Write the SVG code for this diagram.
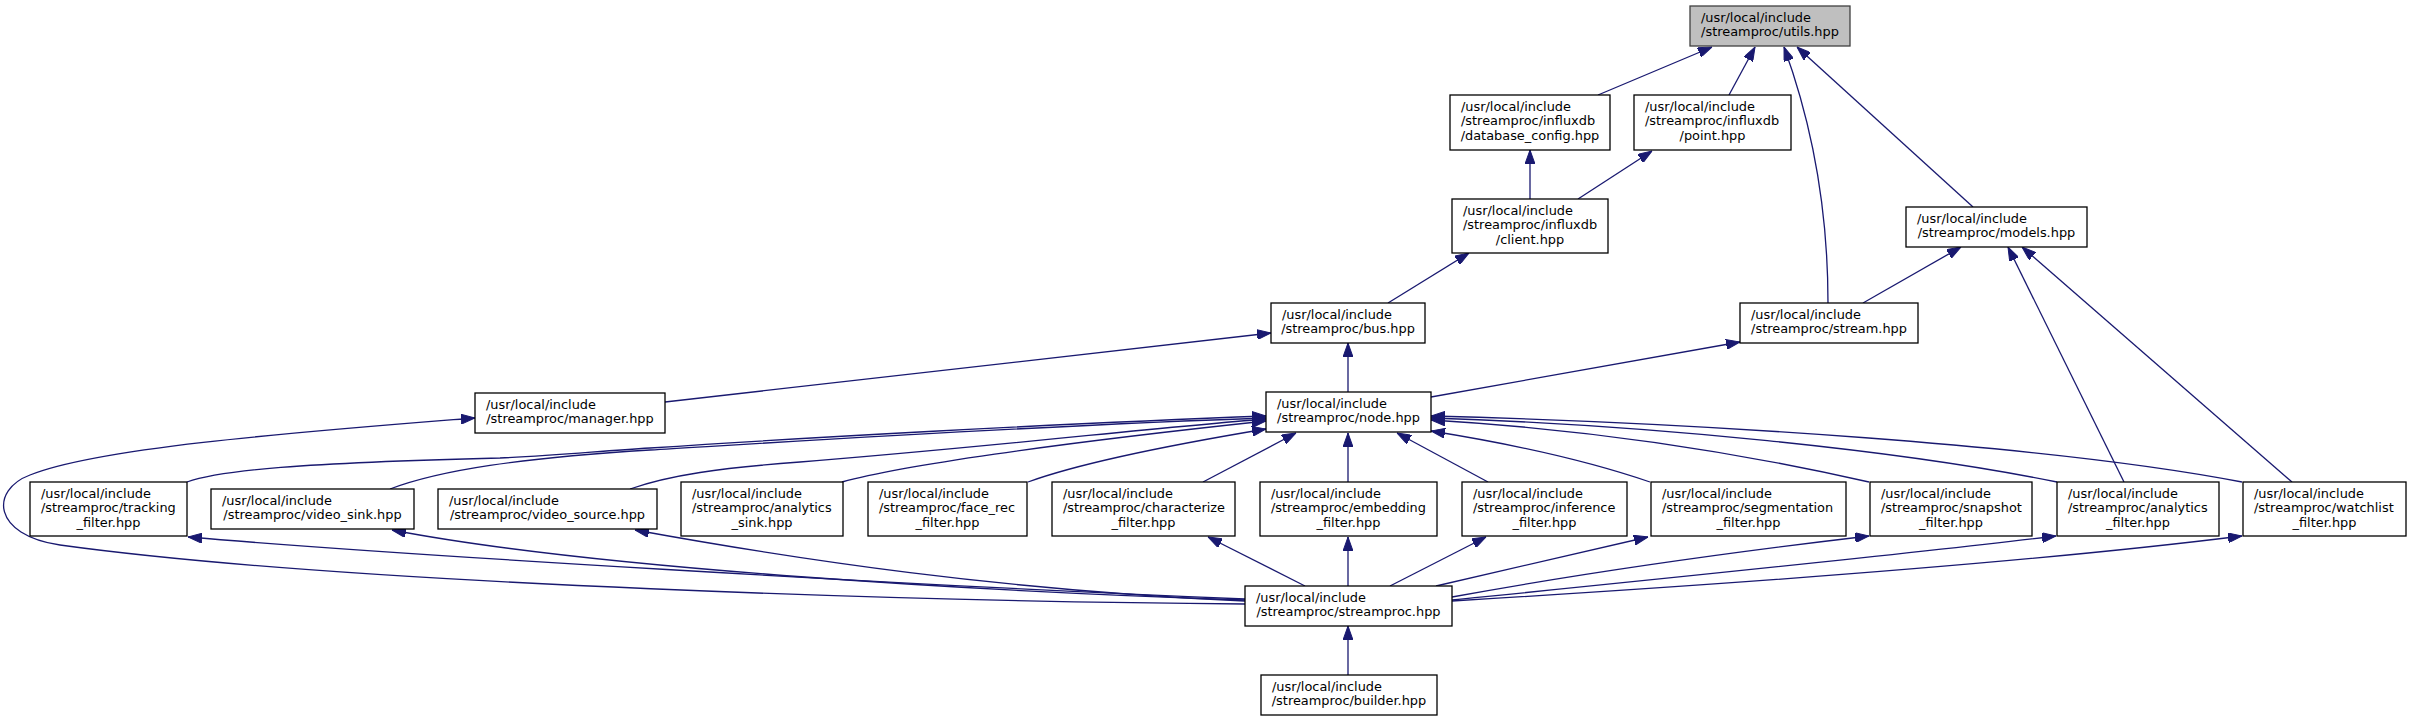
<svg xmlns="http://www.w3.org/2000/svg" width="2411" height="721" viewBox="0 0 2411 721">
<style>
.box{fill:#ffffff;stroke:#000000;stroke-width:1.3}
.root{fill:#bfbfbf;stroke:#404040;stroke-width:1.3}
text{font-family:"DejaVu Sans","Liberation Sans",sans-serif;font-size:12.9px;fill:#000000}
.c{text-anchor:middle}
.e{fill:none;stroke:#191970;stroke-width:1.3;marker-end:url(#ah)}
</style>
<defs>
<marker id="ah" markerUnits="userSpaceOnUse" viewBox="0 0 14 10" refX="14" refY="5" markerWidth="14" markerHeight="10" orient="auto">
<path d="M0,0 L14,5 L0,10 Z" fill="#191970" stroke="#191970" stroke-width="1"/>
</marker>
</defs>
<rect x="0" y="0" width="2411" height="721" fill="#ffffff"/>

<g id="connectors">
<path class="e" d="M1598,95 L1712,47"/>
<path class="e" d="M1729,95 L1755,47"/>
<path class="e" d="M1828,303 C1828,230 1818,140 1784,47"/>
<path class="e" d="M1973,207 L1797,47"/>
<path class="e" d="M1530,199 L1530,150"/>
<path class="e" d="M1578,199 L1652,151"/>
<path class="e" d="M1388,303 L1469,253"/>
<path class="e" d="M1863,303 L1961,247"/>
<path class="e" d="M1348,392 L1348,343"/>
<path class="e" d="M1431,397 L1740,342"/>
<path class="e" d="M665,402 L1271,333"/>
<path class="e" d="M1245,604 C950,602 350,585 60,545 C-8,535 -10,490 30,475 C100,447 300,432 475,418"/>
<path class="e" d="M187,482 C220,470 300,463 500,458 C560,455 600,451 650,448 C800,438 1050,424 1266,416"/>
<path class="e" d="M390,489 C440,470 520,458 650,450 C800,441 1050,425 1266,418"/>
<path class="e" d="M630,489 C670,475 720,468 800,462 C1000,446 1150,428 1266,419"/>
<path class="e" d="M842,482 C900,466 1050,444 1266,421"/>
<path class="e" d="M1028,482 C1080,463 1170,445 1266,429"/>
<path class="e" d="M1203,482 L1296,433"/>
<path class="e" d="M1348,482 L1348,433"/>
<path class="e" d="M1488,482 L1397,433"/>
<path class="e" d="M1650,482 C1580,458 1500,442 1431,431"/>
<path class="e" d="M1869,482 C1750,455 1600,430 1431,420"/>
<path class="e" d="M2057,482 C1900,450 1650,425 1431,418"/>
<path class="e" d="M2242,482 C2050,445 1700,423 1431,416"/>
<path class="e" d="M2124,482 L2008,247"/>
<path class="e" d="M2292,482 L2022,247"/>
<path class="e" d="M1245,599 C900,585 400,555 188,537"/>
<path class="e" d="M1245,600 C1000,592 600,570 392,530"/>
<path class="e" d="M1245,601 C1000,590 800,560 635,530"/>
<path class="e" d="M1305,586 L1208,537"/>
<path class="e" d="M1348,586 L1348,537"/>
<path class="e" d="M1390,586 L1486,537"/>
<path class="e" d="M1436,586 L1648,537"/>
<path class="e" d="M1452,597 C1600,570 1750,550 1869,536"/>
<path class="e" d="M1452,600 C1700,575 1900,555 2056,536"/>
<path class="e" d="M1452,601 C1800,580 2050,560 2242,536"/>
<path class="e" d="M1348,675 L1348,626"/>
</g>

<g id="utils"><rect class="root" x="1690" y="6" width="160" height="40"/><text x="1701" y="21.6">/usr/local/include</text><text class="c" x="1770" y="36.4">/streamproc/utils.hpp</text></g>
<g id="database_config"><rect class="box" x="1450" y="95" width="160" height="55"/><text x="1461" y="110.6">/usr/local/include</text><text x="1461" y="125.4">/streamproc/influxdb</text><text class="c" x="1530" y="140.2">/database_config.hpp</text></g>
<g id="point"><rect class="box" x="1634" y="95" width="157" height="55"/><text x="1645" y="110.6">/usr/local/include</text><text x="1645" y="125.4">/streamproc/influxdb</text><text class="c" x="1712.5" y="140.2">/point.hpp</text></g>
<g id="client"><rect class="box" x="1452" y="199" width="156" height="54"/><text x="1463" y="214.6">/usr/local/include</text><text x="1463" y="229.4">/streamproc/influxdb</text><text class="c" x="1530" y="244.2">/client.hpp</text></g>
<g id="models"><rect class="box" x="1906" y="207" width="181" height="40"/><text x="1917" y="222.6">/usr/local/include</text><text class="c" x="1996.5" y="237.4">/streamproc/models.hpp</text></g>
<g id="bus"><rect class="box" x="1271" y="303" width="154" height="40"/><text x="1282" y="318.6">/usr/local/include</text><text class="c" x="1348" y="333.4">/streamproc/bus.hpp</text></g>
<g id="stream"><rect class="box" x="1740" y="303" width="178" height="40"/><text x="1751" y="318.6">/usr/local/include</text><text class="c" x="1829" y="333.4">/streamproc/stream.hpp</text></g>
<g id="node"><rect class="box" x="1266" y="392" width="165" height="40"/><text x="1277" y="407.6">/usr/local/include</text><text class="c" x="1348.5" y="422.4">/streamproc/node.hpp</text></g>
<g id="manager"><rect class="box" x="475" y="393" width="190" height="40"/><text x="486" y="408.6">/usr/local/include</text><text class="c" x="570" y="423.4">/streamproc/manager.hpp</text></g>
<g id="tracking_filter"><rect class="box" x="30" y="482" width="157" height="54"/><text x="41" y="497.6">/usr/local/include</text><text x="41" y="512.4">/streamproc/tracking</text><text class="c" x="108.5" y="527.2">_filter.hpp</text></g>
<g id="video_sink"><rect class="box" x="211" y="489" width="203" height="40"/><text x="222" y="504.6">/usr/local/include</text><text class="c" x="312.5" y="519.4">/streamproc/video_sink.hpp</text></g>
<g id="video_source"><rect class="box" x="438" y="489" width="219" height="40"/><text x="449" y="504.6">/usr/local/include</text><text class="c" x="547.5" y="519.4">/streamproc/video_source.hpp</text></g>
<g id="analytics_sink"><rect class="box" x="681" y="482" width="162" height="54"/><text x="692" y="497.6">/usr/local/include</text><text x="692" y="512.4">/streamproc/analytics</text><text class="c" x="762" y="527.2">_sink.hpp</text></g>
<g id="face_rec_filter"><rect class="box" x="868" y="482" width="159" height="54"/><text x="879" y="497.6">/usr/local/include</text><text x="879" y="512.4">/streamproc/face_rec</text><text class="c" x="947.5" y="527.2">_filter.hpp</text></g>
<g id="characterize_filter"><rect class="box" x="1052" y="482" width="183" height="54"/><text x="1063" y="497.6">/usr/local/include</text><text x="1063" y="512.4">/streamproc/characterize</text><text class="c" x="1143.5" y="527.2">_filter.hpp</text></g>
<g id="embedding_filter"><rect class="box" x="1260" y="482" width="177" height="54"/><text x="1271" y="497.6">/usr/local/include</text><text x="1271" y="512.4">/streamproc/embedding</text><text class="c" x="1348.5" y="527.2">_filter.hpp</text></g>
<g id="inference_filter"><rect class="box" x="1462" y="482" width="165" height="54"/><text x="1473" y="497.6">/usr/local/include</text><text x="1473" y="512.4">/streamproc/inference</text><text class="c" x="1544.5" y="527.2">_filter.hpp</text></g>
<g id="segmentation_filter"><rect class="box" x="1651" y="482" width="195" height="54"/><text x="1662" y="497.6">/usr/local/include</text><text x="1662" y="512.4">/streamproc/segmentation</text><text class="c" x="1748.5" y="527.2">_filter.hpp</text></g>
<g id="snapshot_filter"><rect class="box" x="1870" y="482" width="162" height="54"/><text x="1881" y="497.6">/usr/local/include</text><text x="1881" y="512.4">/streamproc/snapshot</text><text class="c" x="1951" y="527.2">_filter.hpp</text></g>
<g id="analytics_filter"><rect class="box" x="2057" y="482" width="162" height="54"/><text x="2068" y="497.6">/usr/local/include</text><text x="2068" y="512.4">/streamproc/analytics</text><text class="c" x="2138" y="527.2">_filter.hpp</text></g>
<g id="watchlist_filter"><rect class="box" x="2243" y="482" width="163" height="54"/><text x="2254" y="497.6">/usr/local/include</text><text x="2254" y="512.4">/streamproc/watchlist</text><text class="c" x="2324.5" y="527.2">_filter.hpp</text></g>
<g id="streamproc"><rect class="box" x="1245" y="586" width="207" height="40"/><text x="1256" y="601.6">/usr/local/include</text><text class="c" x="1348.5" y="616.4">/streamproc/streamproc.hpp</text></g>
<g id="builder"><rect class="box" x="1261" y="675" width="176" height="40"/><text x="1272" y="690.6">/usr/local/include</text><text class="c" x="1349" y="705.4">/streamproc/builder.hpp</text></g>
</svg>
